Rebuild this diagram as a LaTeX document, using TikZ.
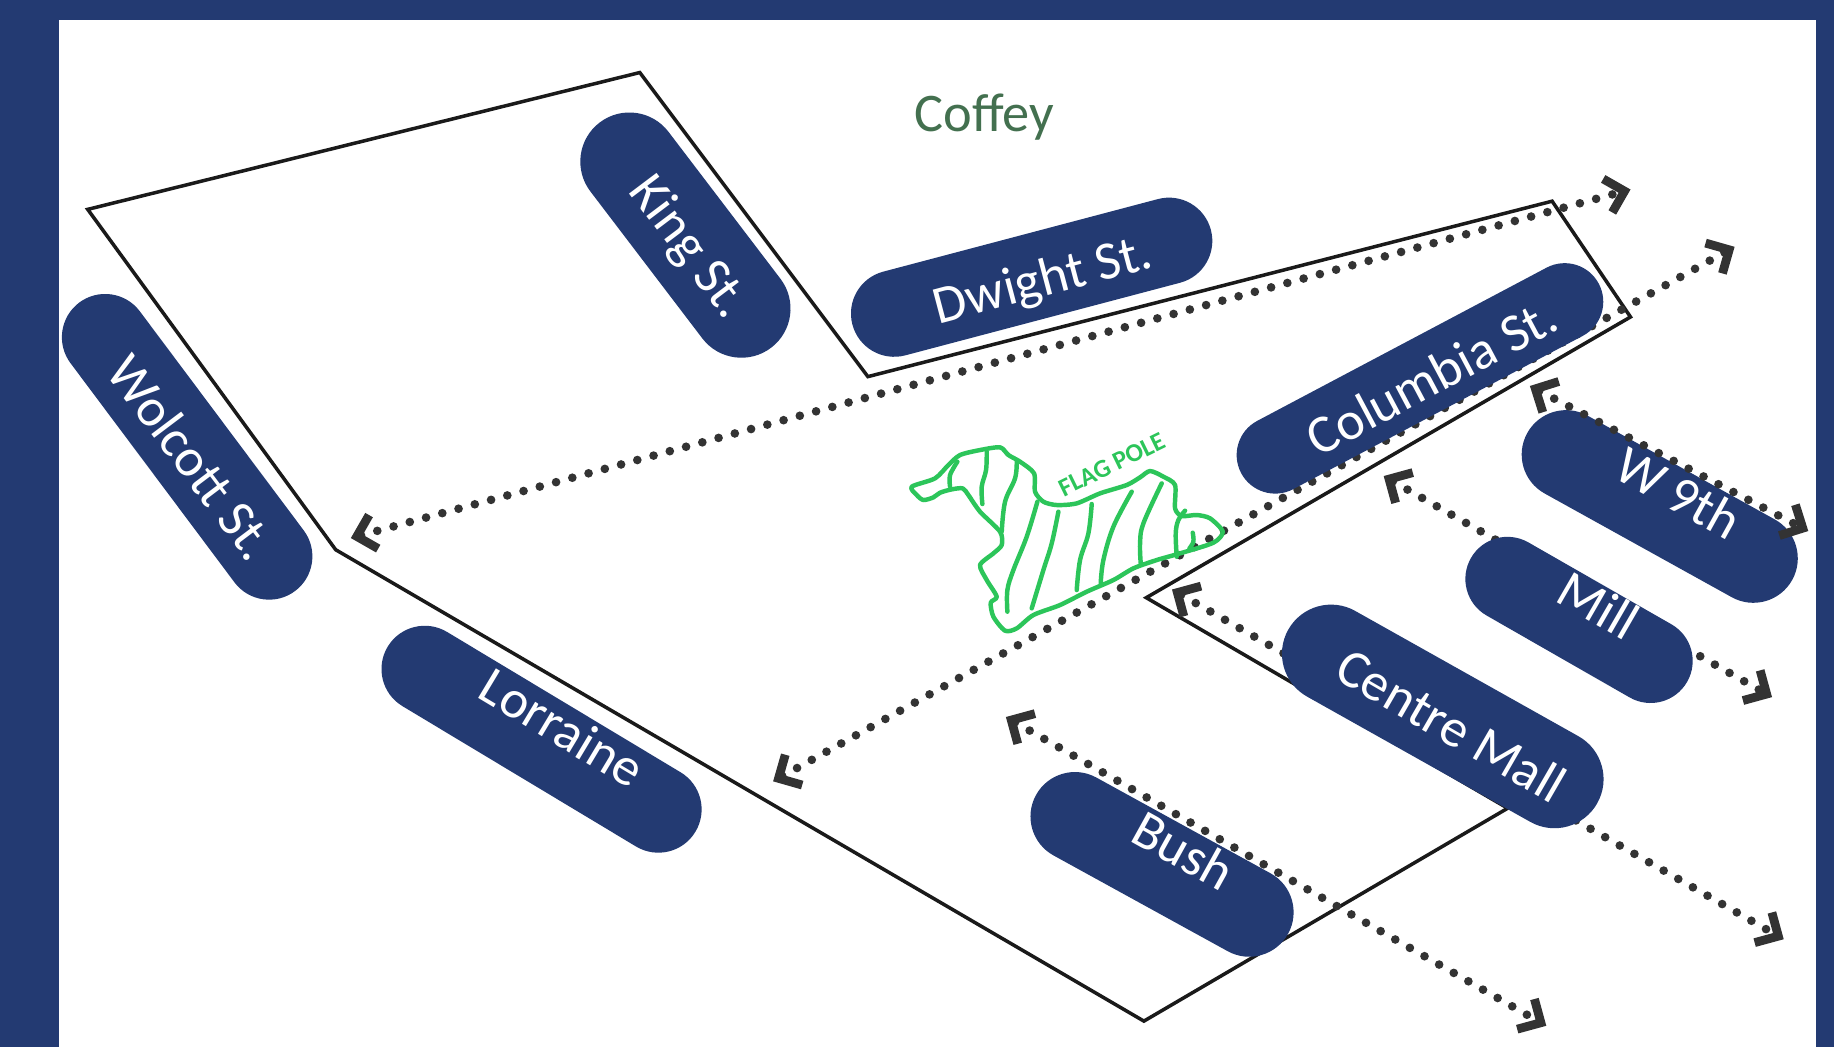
\documentclass[tikz,border=0pt]{standalone}
\usepackage{fontspec}
\setmainfont{Carlito}
\usetikzlibrary{calc}
\definecolor{navy}{HTML}{233A72}
\definecolor{inkdot}{HTML}{333333}
\definecolor{outlinek}{HTML}{1A1A1A}
\definecolor{flaggreen}{HTML}{2CC55A}
\definecolor{titlegreen}{HTML}{43704F}
\tikzset{
  pill/.style={fill=navy,draw=none,rectangle,rounded corners=#1,minimum height=2*#1,inner sep=0pt},
  pilltext/.style={text=white,font=\fontsize{46}{48}\selectfont,inner sep=0pt},
  routearrow/.style={draw=inkdot,line width=7.4pt,line cap=round,dash pattern=on 0pt off 14.4pt},
  chevron/.style={draw=inkdot,line width=7.5pt,line cap=butt,line join=miter,miter limit=10},
  flagline/.style={draw=flaggreen,line width=3.8pt,line cap=round,line join=round},
  pathline/.style={draw=outlinek,line width=3pt,line join=miter}
}
% dotted route with a square chevron at both of its named ends
\newcommand{\routeline}[2]{%
  \draw[routearrow] ($(#1)!9pt!(#2)$) -- ($(#2)!9pt!(#1)$);
  \draw[chevron] ($($(#1)!5.3pt!(#2)$)!21pt!45:(#2)$) -- ($(#1)!5.3pt!(#2)$) -- ($($(#1)!5.3pt!(#2)$)!21pt!-45:(#2)$);
  \draw[chevron] ($($(#2)!5.3pt!(#1)$)!21pt!45:(#1)$) -- ($(#2)!5.3pt!(#1)$) -- ($($(#2)!5.3pt!(#1)$)!21pt!-45:(#1)$);
}
\begin{document}
\begin{tikzpicture}[x=1pt,y=-1pt]
\useasboundingbox (0,0) rectangle (1568,895.2);
\fill[navy] (0,0) rectangle (1568,895.2);
\fill[white] (50.5,17) rectangle (1553,895.2);
% outline
\draw[pathline] (75,179) -- (547,62) -- (742,322) -- (1327,172) -- (1394,271) -- (980,511) -- (1289,691) -- (978,873) -- (287,470) -- cycle;
% lower pills under the dots
\node[pill=38pt,minimum width=246pt,rotate=-28.8] (bush) at (993.5,739) {};
\node[pill=38pt,minimum width=259pt,rotate=-29] (nine) at (1419,433) {};
% arrow ends
\coordinate (a1) at (300,460); \coordinate (a2) at (1394,162);
\coordinate (b1) at (661,668); \coordinate (b2) at (1483,211);
\coordinate (c1) at (1308,330); \coordinate (c2) at (1546,454);
\coordinate (d1) at (1183,407); \coordinate (d2) at (1515,596);
\coordinate (e1) at (1002,504); \coordinate (e2) at (1525,803);
\coordinate (f1) at (860,613); \coordinate (f2) at (1322,877);
\routeline{a1}{a2}
\routeline{b1}{b2}
\routeline{c1}{c2}
\routeline{d1}{d2}
\routeline{e1}{e2}
\routeline{f1}{f2}
% flag area
\begin{scope}[shift={(752.4,359.1)},x=0.285pt,y=-0.285pt]
\draw[flagline] plot[smooth cycle,tension=0.45] coordinates {(95,200) (110,225) (130,240) (160,232) (180,218) (215,208) (248,205) (265,225) (300,275) (360,335) (365,375) (340,400) (300,435) (320,480) (350,530) (332,548) (340,590) (375,632) (410,625) (460,585) (540,555) (620,515) (700,480) (760,445) (830,420) (900,400) (1000,368) (1028,335) (990,295) (950,285) (905,288) (885,265) (885,195) (850,170) (810,153) (780,172) (740,195) (660,220) (590,250) (530,255) (490,245) (465,215) (462,160) (420,125) (385,105) (360,82) (300,90) (240,105) (205,135) (165,175)};
\draw[flagline] plot[smooth,tension=0.6] coordinates {(232,125) (210,165) (210,200)};
\draw[flagline] plot[smooth,tension=0.6] coordinates {(320,95) (318,150) (305,200) (307,252)};
\draw[flagline] plot[smooth,tension=0.6] coordinates {(410,125) (405,175) (375,245) (365,335)};
\draw[flagline] plot[smooth,tension=0.6] coordinates {(472,245) (440,350) (400,450) (382,510) (382,575)};
\draw[flagline] plot[smooth,tension=0.6] coordinates {(535,275) (515,370) (490,450) (455,565)};
\draw[flagline] plot[smooth,tension=0.6] coordinates {(635,252) (625,340) (600,420) (590,510)};
\draw[flagline] plot[smooth,tension=0.6] coordinates {(755,215) (700,320) (670,420) (662,490)};
\draw[flagline] plot[smooth,tension=0.6] coordinates {(845,190) (790,310) (780,370) (782,430)};
\draw[flagline] plot[smooth,tension=0.6] coordinates {(890,410) (887,340) (895,300) (915,272)};
\draw[flagline] plot[smooth,tension=0.6] coordinates {(938,338) (940,365) (928,385)};
\end{scope}
\node[text=flaggreen,rotate=26,inner sep=0pt,font=\fontsize{22}{24}\selectfont\bfseries] (flaglabel) at (950.5,397) {FLAG POLE};
% upper pills
\node[pill=42pt,minimum width=242pt,rotate=-52.7] (king) at (586,201) {};
\node[pill=37pt,minimum width=317pt,rotate=14.8] (dwight) at (882,237) {};
\node[pill=37pt,minimum width=308pt,rotate=-53.2] (wolcott) at (160,382) {};
\node[pill=37pt,minimum width=307pt,rotate=-31] (lorraine) at (463,632) {};
\node[pill=33pt,minimum width=346pt,rotate=27.9] (columbia) at (1214,323.5) {};
\node[pill=36pt,minimum width=213pt,rotate=-29.8] (mill) at (1350,530) {};
\node[pill=42pt,minimum width=303pt,rotate=-29.3] (centre) at (1233.5,612.5) {};
% texts
\node[text=titlegreen,inner sep=0pt,font=\fontsize{46.5}{50}\selectfont] (title) at (841.5,100) {Coffey};
\node[pilltext,rotate=-53] (kingt) at (588,212) {King St.};
\node[pilltext,rotate=14.8] (dwightt) at (892,241) {Dwight St.};
\node[pilltext,rotate=-53] (wolcottt) at (164,391) {Wolcott St.};
\node[pilltext,rotate=-31] (lorrainet) at (481,622) {Lorraine};
\node[pilltext,rotate=28] (columbiat) at (1224,322) {Columbia St.};
\node[pilltext,rotate=-29] (ninet) at (1435,421) {W 9th};
\node[pilltext,rotate=-30] (millt) at (1367,517) {Mill};
\node[pilltext,rotate=-30] (centret) at (1241,620) {Centre Mall};
\node[pilltext,rotate=-29] (busht) at (1012,727) {Bush};
\end{tikzpicture}
\end{document}
